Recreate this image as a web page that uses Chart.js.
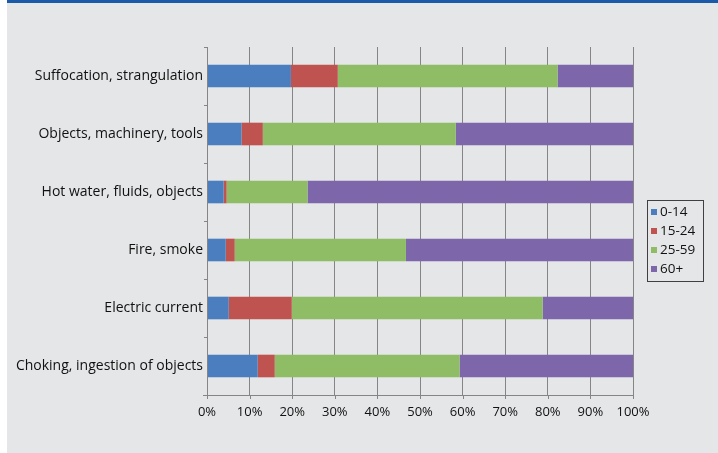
<!DOCTYPE html>
<html>
<head>
<meta charset="utf-8">
<script src="https://cdn.jsdelivr.net/npm/chart.js@4/dist/chart.umd.min.js"></script>
<style>
html,body{margin:0;padding:0;background:#fff;}
#wrap{position:relative;width:718px;height:453px;}
canvas{display:block;}
</style>
</head>
<body>
<div id="wrap"><canvas id="c" width="718" height="453"></canvas></div>
<script>
const categories = ["Suffocation, strangulation","Objects, machinery, tools","Hot water, fluids, objects","Fire, smoke","Electric current","Choking, ingestion of objects"];
const seriesNames = ["0-14","15-24","25-59","60+"];
const age0_14  = [19.7, 8.1, 3.9, 4.4, 5.1, 11.9];
const age15_24 = [11.0, 5.0, 0.7, 2.1, 14.8, 4.0];
const age25_59 = [51.6, 45.3, 19.0, 40.2, 58.9, 43.4];
const age60p   = [17.7, 41.6, 76.4, 53.3, 21.2, 40.7];
const xTicks = ["0%","10%","20%","30%","40%","50%","60%","70%","80%","90%","100%"];
const colors = ["#4a7ebf","#bf5350","#8ebd66","#7d66a9"];

const FONT = "'Open Sans', 'Noto Sans', sans-serif";

const bgPlugin = {
  id:'bg',
  beforeDraw(chart){
    const c = chart.ctx;
    c.save();
    c.fillStyle = '#ffffff';
    c.fillRect(0,0,chart.width,chart.height);
    c.fillStyle = '#e5e6e8';
    c.fillRect(7,0,chart.width-7,chart.height);
    c.fillStyle = '#1a5aa8';
    c.fillRect(7,0,chart.width-7,3);
    c.restore();
  }
};

const legendPlugin = {
  id:'customLegend',
  afterDraw(chart){
    const c = chart.ctx;
    c.save();
    const x0 = 647.5, y0 = 200.5, w = 56, h = 81;
    c.strokeStyle = '#404040';
    c.lineWidth = 1;
    c.strokeRect(x0,y0,w,h);
    c.font = "13.5px " + FONT;
    c.textBaseline = 'middle';
    chart.data.datasets.forEach((ds,i)=>{
      const cy = 212 + i*19;
      c.fillStyle = ds.backgroundColor;
      c.fillRect(651, cy-3, 6, 6);
      c.fillStyle = '#111111';
      c.fillText(ds.label, 660, cy+0.5);
    });
    c.restore();
  }
};

const tickLinePlugin = {
  id:'ticksLines',
  afterDatasetsDraw(chart){
    const c = chart.ctx;
    const xs = chart.scales.x, ys = chart.scales.y;
    c.save();
    c.strokeStyle = '#858585';
    c.lineWidth = 1;
    c.beginPath();
    c.moveTo(Math.round(xs.left)+0.5, ys.top);
    c.lineTo(Math.round(xs.left)+0.5, ys.bottom+4);
    c.stroke();
    c.beginPath();
    c.moveTo(xs.left-4, Math.round(ys.bottom)+0.5);
    c.lineTo(xs.right, Math.round(ys.bottom)+0.5);
    c.stroke();
    const n = categories.length;
    for(let i=0;i<=n;i++){
      const y = Math.round(ys.top + (ys.bottom-ys.top)*i/n)+0.5;
      c.beginPath();
      c.moveTo(xs.left-3, y);
      c.lineTo(xs.left, y);
      c.stroke();
    }
    for(let v=0; v<=100; v+=10){
      const x = Math.round(xs.getPixelForValue(v))+0.5;
      c.beginPath();
      c.moveTo(x, ys.bottom);
      c.lineTo(x, ys.bottom+4);
      c.stroke();
    }
    c.restore();
  }
};

const datasets = [age0_14, age15_24, age25_59, age60p].map((d,i)=>({
  label: seriesNames[i],
  data: d,
  backgroundColor: colors[i],
  borderWidth: 0,
  barPercentage: 0.39,
  categoryPercentage: 1.0
}));

new Chart(document.getElementById('c'), {
  type:'bar',
  data:{ labels: categories, datasets },
  options:{
    indexAxis:'y',
    responsive:false,
    animation:false,
    devicePixelRatio:1,
    layout:{ padding:{ left:0, right:85, top:47, bottom:0 } },
    plugins:{ legend:{display:false}, tooltip:{enabled:false} },
    scales:{
      x:{
        stacked:true, min:0, max:100,
        afterBuildTicks(s){ s.ticks = xTicks.map((t,i)=>({value:i*10})); },
        afterFit(s){ s.height = 58; },
        grid:{ color:'#858585', lineWidth:1, drawTicks:false },
        border:{ display:false },
        ticks:{
          autoSkip:false, maxRotation:0, padding:9,
          color:'#111111',
          font:{ family:FONT, size:13 },
          callback:(v,i)=>xTicks[i]
        }
      },
      y:{
        stacked:true,
        afterFit(s){ s.width = 207; },
        grid:{ display:false, drawTicks:false },
        border:{ display:false },
        ticks:{
          padding:4,
          color:'#111111',
          font:{ family:FONT, size:14 }
        }
      }
    }
  },
  plugins:[bgPlugin, tickLinePlugin, legendPlugin]
});
</script>
</body>
</html>
